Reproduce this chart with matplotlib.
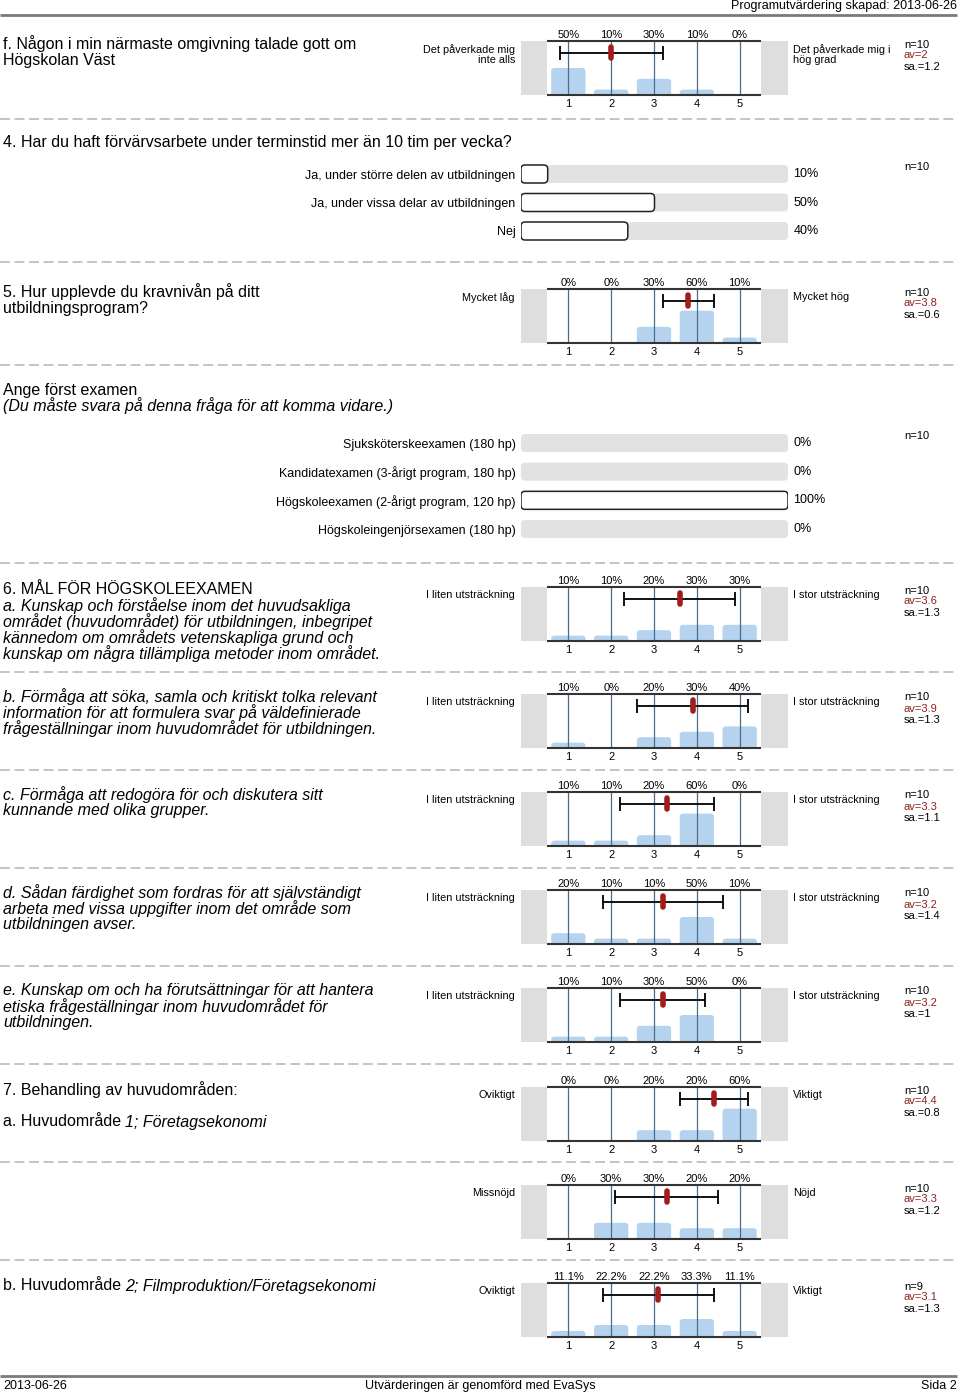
import matplotlib
matplotlib.use("Agg")
import matplotlib.pyplot as plt
from matplotlib.patches import FancyBboxPatch

plt.rcParams['font.family'] = ['Liberation Sans', 'DejaVu Sans']

W, H = 960, 1395

# ---- data ----
header_text = 'Programutvärdering skapad: 2013-06-26'
footer_left = '2013-06-26'
footer_mid = 'Utvärderingen är genomförd med EvaSys'
footer_right = 'Sida 2'

scale_ticks = [1, 2, 3, 4, 5]

f_pct = [50, 10, 30, 10, 0]
q5_pct = [0, 0, 30, 60, 10]
q6a_pct = [10, 10, 20, 30, 30]
q6b_pct = [10, 0, 20, 30, 40]
q6c_pct = [10, 10, 20, 60, 0]
q6d_pct = [20, 10, 10, 50, 10]
q6e_pct = [10, 10, 30, 50, 0]
q7a_pct = [0, 0, 20, 20, 60]
q7x_pct = [0, 30, 30, 20, 20]
q7b_pct = [11.1, 22.2, 22.2, 33.3, 11.1]

# n, mean, std
f_stats = (10, 2, 1.2)
q5_stats = (10, 3.8, 0.6)
q6a_stats = (10, 3.6, 1.3)
q6b_stats = (10, 3.9, 1.3)
q6c_stats = (10, 3.3, 1.1)
q6d_stats = (10, 3.2, 1.4)
q6e_stats = (10, 3.2, 1.0)
q7a_stats = (10, 4.4, 0.8)
q7x_stats = (10, 3.3, 1.2)
q7b_stats = (9, 3.1, 1.3)

q4_labels = ['Ja, under större delen av utbildningen',
             'Ja, under vissa delar av utbildningen', 'Nej']
q4_pct = [10, 50, 40]
q4_n = 10

exam_labels = ['Sjuksköterskeexamen (180 hp)',
               'Kandidatexamen (3-årigt program, 180 hp)',
               'Högskoleexamen (2-årigt program, 120 hp)',
               'Högskoleingenjörsexamen (180 hp)']
exam_pct = [0, 0, 100, 0]
exam_n = 10

BAR_BLUE = '#b5d3ee'
VLINE = '#4a6c8c'
MEAN_RED = '#a31c1c'
AV_RED = '#8b2323'
SEP = '#b4b4b4'
TSIZE = 11.5   # question text
SSIZE = 7.8    # scale end labels

fig = plt.figure(figsize=(W / 100, H / 100), dpi=100)
page = fig.add_axes([0, 0, 1, 1])
page.set_xlim(0, W)
page.set_ylim(H, 0)
page.axis('off')


def px_axes(x0, y0, x1, y1):
    return fig.add_axes([x0 / W, 1 - y1 / H, (x1 - x0) / W, (y1 - y0) / H])


def fmt(v):
    return '%g' % v


def hist_panel(top, pcts, stats, left_label, right_label):
    # plot area 547..761 px, grey end blocks 521..547 and 761..788
    n, mean, sd = stats
    ax = px_axes(521, top, 788, top + 54)
    lo, hi = 0.5 - 26 / 43, 5.5 + 27 / 43
    ax.set_xlim(lo, hi)
    ax.set_ylim(0, 100)
    for s in ax.spines.values():
        s.set_visible(False)
    ax.set_yticks([])
    ax.set_xticks(scale_ticks)
    ax.set_xticklabels([str(t) for t in scale_ticks], fontsize=8)
    ax.tick_params(axis='x', length=0, pad=3)
    ax.axvspan(lo, 0.5, color='#dedede', lw=0)
    ax.axvspan(5.5, hi, color='#dedede', lw=0)

    ry = 3 * 100 / 54
    rx = 3 / 43
    for x, p in zip(scale_ticks, pcts):
        if p > 0:
            ax.add_patch(FancyBboxPatch((x - 0.4, -ry), 0.8, p + ry,
                                        boxstyle='round,pad=0,rounding_size=%f' % rx,
                                        mutation_aspect=ry / rx,
                                        fc=BAR_BLUE, ec='none', zorder=2))
        ax.annotate(fmt(p) + '%', xy=(x, 100), xytext=(0, 4.5),
                    textcoords='offset points', ha='center', va='center',
                    fontsize=8, annotation_clip=False)
    ax.vlines(scale_ticks, 0, 100, color=VLINE, lw=0.9, zorder=3)
    ax.hlines([0, 100], 0.5, 5.5, color='#333333', lw=1.5, zorder=4, clip_on=False)

    ey = 78
    ax.errorbar([mean], [ey], xerr=[sd], fmt='none', ecolor='black',
                elinewidth=1.3, capsize=5, capthick=1.3, zorder=5)
    ax.plot([mean, mean], [ey - 10, ey + 10], color=MEAN_RED, lw=4,
            solid_capstyle='round', zorder=6)

    page.text(515, top + 3, left_label, ha='right', va='top', fontsize=SSIZE,
              linespacing=1.05, multialignment='right')
    page.text(793, top + 3, right_label, ha='left', va='top', fontsize=SSIZE,
              linespacing=1.05)
    page.text(904, top + 3.5, 'n=%d' % n, va='center', fontsize=8)
    page.text(904, top + 14.5, 'av=%s' % fmt(mean), va='center', fontsize=8, color=AV_RED)
    page.text(904, top + 26, 'sa.=%s' % fmt(sd), va='center', fontsize=8)
    return ax


def hbar_group(first_y, step, labels, pcts, n):
    k = len(labels)
    ax = px_axes(521, first_y - step / 2, 788, first_y + step * (k - 0.5))
    ax.set_xlim(0, 100)
    ax.set_ylim(k - 0.5, -0.5)
    for s in ax.spines.values():
        s.set_visible(False)
    ax.set_xticks([])
    ax.set_yticks(range(k))
    ax.set_yticklabels(labels, fontsize=9)
    ax.tick_params(axis='y', length=0, pad=4)
    h = 18 / step
    rx = 4 * 100 / 267
    asp = (1 / step) / (100 / 267)
    for i, p in enumerate(pcts):
        ax.add_patch(FancyBboxPatch((0, i - h / 2), 100, h,
                                    boxstyle='round,pad=0,rounding_size=%f' % rx,
                                    mutation_aspect=asp, fc='#e2e2e2', ec='none'))
        if p > 0:
            ax.add_patch(FancyBboxPatch((0, i - h / 2), p, h,
                                        boxstyle='round,pad=0,rounding_size=%f' % rx,
                                        mutation_aspect=asp, fc='white',
                                        ec='#222222', lw=1.1))
        ax.annotate(fmt(p) + '%', xy=(100, i), xytext=(4, 0),
                    textcoords='offset points', va='center', fontsize=9,
                    annotation_clip=False)
    page.text(904, first_y - 7, 'n=%d' % n, va='center', fontsize=8)
    return ax


def title(x, y, txt, italic=False, size=TSIZE):
    return page.text(x, y, txt, va='center', fontsize=size,
                     style='italic' if italic else 'normal')


def mixed_title(x, y, plain, ital):
    t = title(x, y, plain)
    page.annotate(ital, xy=(1, 0), xycoords=t, xytext=(3, 0),
                  textcoords='offset points', va='bottom', ha='left',
                  fontsize=TSIZE, style='italic')


# header / footer
page.text(957, 6, header_text, ha='right', va='center', fontsize=9)
page.hlines(15, 0, 957, color='#7a7a7a', lw=2)
page.hlines(1376, 0, 957, color='#7a7a7a', lw=2)
page.text(3, 1386, footer_left, va='center', fontsize=9)
page.text(480, 1386, footer_mid, ha='center', va='center', fontsize=9)
page.text(957, 1386, footer_right, ha='right', va='center', fontsize=9)

# dashed separators
sep_y = [119, 262, 365, 563, 672, 770, 868, 966, 1064, 1162, 1260]
page.hlines(sep_y, 0, 957, color=SEP, lw=1.1, linestyles=(0, (6.5, 3)))

# f.
title(3, 44, 'f. Någon i min närmaste omgivning talade gott om')
title(3, 60, 'Högskolan Väst')
hist_panel(41, f_pct, f_stats, 'Det påverkade mig\ninte alls', 'Det påverkade mig i\nhög grad')

# 4.
title(3, 142, '4. Har du haft förvärvsarbete under terminstid mer än 10 tim per vecka?')
hbar_group(174, 28.5, q4_labels, q4_pct, q4_n)

# 5.
title(3, 292, '5. Hur upplevde du kravnivån på ditt')
title(3, 308, 'utbildningsprogram?')
hist_panel(289, q5_pct, q5_stats, 'Mycket låg', 'Mycket hög')

# examen
title(3, 390, 'Ange först examen')
title(3, 406, '(Du måste svara på denna fråga för att komma vidare.)', italic=True)
hbar_group(443, 28.67, exam_labels, exam_pct, exam_n)

# 6.
title(3, 590, '6. MÅL FÖR HÖGSKOLEEXAMEN')
q6_texts = [
    (606, ['a. Kunskap och förståelse inom det huvudsakliga',
           'området (huvudområdet) för utbildningen, inbegripet',
           'kännedom om områdets vetenskapliga grund och',
           'kunskap om några tillämpliga metoder inom området.']),
    (697, ['b. Förmåga att söka, samla och kritiskt tolka relevant',
           'information för att formulera svar på väldefinierade',
           'frågeställningar inom huvudområdet för utbildningen.']),
    (795, ['c. Förmåga att redogöra för och diskutera sitt',
           'kunnande med olika grupper.']),
    (893, ['d. Sådan färdighet som fordras för att självständigt',
           'arbeta med vissa uppgifter inom det område som',
           'utbildningen avser.']),
    (991, ['e. Kunskap om och ha förutsättningar för att hantera',
           'etiska frågeställningar inom huvudområdet för',
           'utbildningen.']),
]
for y0, lines in q6_texts:
    for j, line in enumerate(lines):
        title(3, y0 + 16 * j, line, italic=True)

lo_lbl, hi_lbl = 'I liten utsträckning', 'I stor utsträckning'
hist_panel(587, q6a_pct, q6a_stats, lo_lbl, hi_lbl)
hist_panel(694, q6b_pct, q6b_stats, lo_lbl, hi_lbl)
hist_panel(792, q6c_pct, q6c_stats, lo_lbl, hi_lbl)
hist_panel(890, q6d_pct, q6d_stats, lo_lbl, hi_lbl)
hist_panel(988, q6e_pct, q6e_stats, lo_lbl, hi_lbl)

# 7.
title(3, 1090, '7. Behandling av huvudområden:')
mixed_title(3, 1122, 'a. Huvudområde', '1; Företagsekonomi')
hist_panel(1087, q7a_pct, q7a_stats, 'Oviktigt', 'Viktigt')
hist_panel(1185, q7x_pct, q7x_stats, 'Missnöjd', 'Nöjd')
mixed_title(3, 1286, 'b. Huvudområde', '2; Filmproduktion/Företagsekonomi')
hist_panel(1283, q7b_pct, q7b_stats, 'Oviktigt', 'Viktigt')

fig.savefig('out.png', dpi=100)
